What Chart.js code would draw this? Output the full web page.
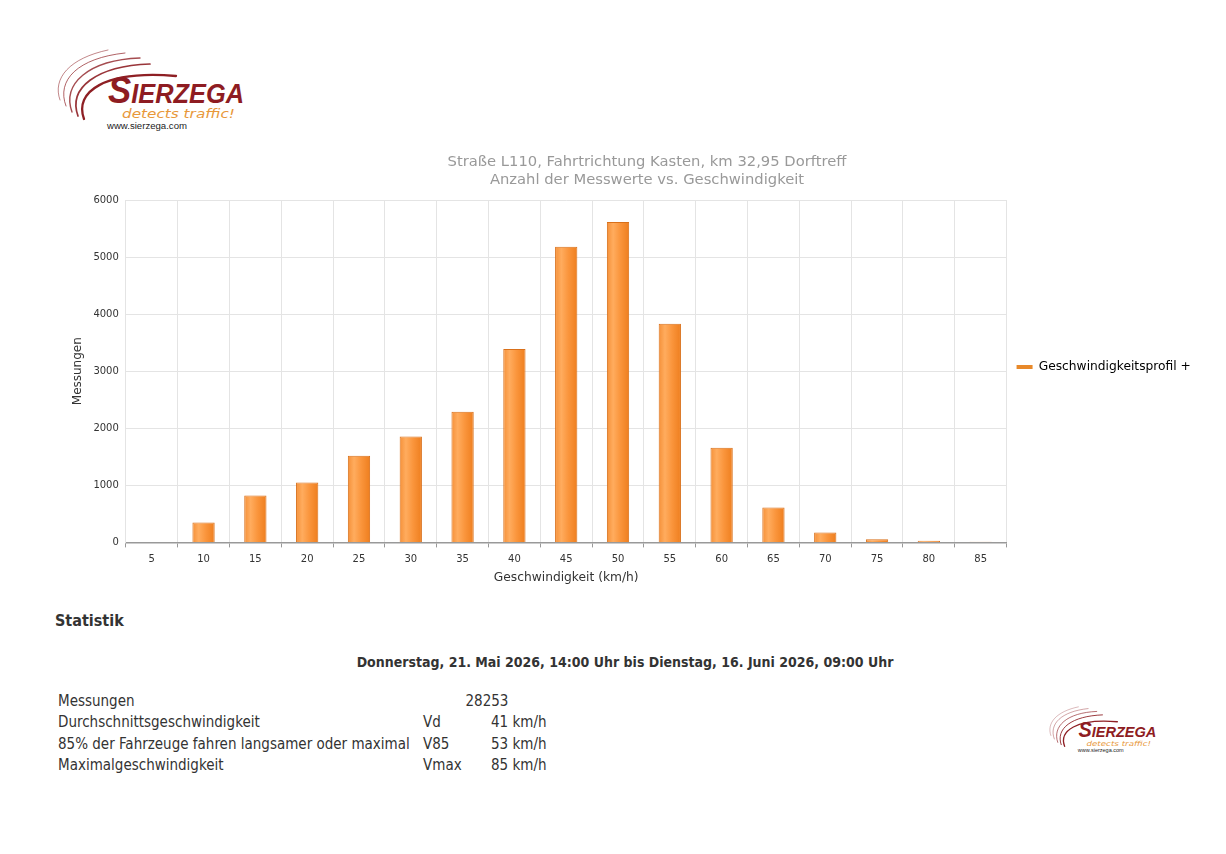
<!DOCTYPE html>
<html lang="de">
<head>
<meta charset="utf-8">
<title>Geschwindigkeitsprofil</title>
<script src="https://cdn.jsdelivr.net/npm/chart.js@4.4.1/dist/chart.umd.min.js"></script>
<style>
  html, body { margin: 0; padding: 0; background: #fff; width: 1226px; height: 854px; overflow: hidden; }
  body { position: relative; font-family: "DejaVu Sans", sans-serif; color: #333; }
  #wrap { position: absolute; left: 62px; top: 145px; width: 1170px; height: 444px; }
  .abs { position: absolute; white-space: nowrap; }
  .cond { font-family: "DejaVu Sans Condensed", "DejaVu Sans", sans-serif; font-stretch: condensed; }
  #logos { position: absolute; left: 0; top: 0; }
</style>
</head>
<body>
<svg id="logos" width="1226" height="854" xmlns="http://www.w3.org/2000/svg">
  <g>
    <g fill="none" stroke="#8e1f24" stroke-linecap="round">
      <path d="M60 100 C52 78 70 58 108 50" stroke-width="0.9" opacity="0.6"/>
      <path d="M66 106 C56 80 78 58 125 53" stroke-width="1" opacity="0.7"/>
      <path d="M72 112 C62 84 88 60 140 58" stroke-width="1.4" opacity="0.8"/>
      <path d="M78 116 C68 88 96 66 150 64" stroke-width="1.7" opacity="0.9"/>
      <path d="M84 119 C74 92 104 70 176 76" stroke-width="2.3"/>
    </g>
    <text x="108" y="103" font-family="Liberation Sans, sans-serif" font-style="italic" font-weight="bold" fill="#8e1c22" textLength="136" lengthAdjust="spacingAndGlyphs"><tspan font-size="37">S</tspan><tspan font-size="27">IERZEGA</tspan></text>
    <text x="122" y="118" font-family="DejaVu Sans, sans-serif" font-size="12" font-style="italic" fill="#e8983a" textLength="113" lengthAdjust="spacingAndGlyphs">detects traffic!</text>
    <text x="107" y="129" font-family="Liberation Sans, sans-serif" font-size="8.5" fill="#222" textLength="80" lengthAdjust="spacingAndGlyphs">www.sierzega.com</text>
  </g>
  <g transform="translate(1016.5 678.2) scale(0.573)">
    <g fill="none" stroke="#8e1f24" stroke-linecap="round">
      <path d="M60 100 C52 78 70 58 108 50" stroke-width="0.9" opacity="0.6"/>
      <path d="M66 106 C56 80 78 58 125 53" stroke-width="1" opacity="0.7"/>
      <path d="M72 112 C62 84 88 60 140 58" stroke-width="1.4" opacity="0.8"/>
      <path d="M78 116 C68 88 96 66 150 64" stroke-width="1.7" opacity="0.9"/>
      <path d="M84 119 C74 92 104 70 176 76" stroke-width="2.3"/>
    </g>
    <text x="108" y="103" font-family="Liberation Sans, sans-serif" font-style="italic" font-weight="bold" fill="#8e1c22" textLength="136" lengthAdjust="spacingAndGlyphs"><tspan font-size="37">S</tspan><tspan font-size="27">IERZEGA</tspan></text>
    <text x="122" y="118" font-family="DejaVu Sans, sans-serif" font-size="12" font-style="italic" fill="#e8983a" textLength="113" lengthAdjust="spacingAndGlyphs">detects traffic!</text>
    <text x="107" y="129" font-family="Liberation Sans, sans-serif" font-size="8.5" fill="#222" textLength="80" lengthAdjust="spacingAndGlyphs">www.sierzega.com</text>
  </g>
</svg>

<div id="wrap"><canvas id="chart" width="1170" height="444"></canvas></div>

<div class="abs cond" style="left:55px; top:611px; font-size:16px; font-weight:bold; line-height:20px;">Statistik</div>
<div class="abs cond" style="left:0; width:1250px; top:652px; font-size:14px; font-weight:bold; line-height:20px; text-align:center;">Donnerstag, 21. Mai 2026, 14:00 Uhr bis Dienstag, 16. Juni 2026, 09:00 Uhr</div>

<div class="abs cond" style="left:58px; top:691px; font-size:15px; line-height:21.3px;">
  Messungen<br>Durchschnittsgeschwindigkeit<br>85% der Fahrzeuge fahren langsamer oder maximal<br>Maximalgeschwindigkeit
</div>
<div class="abs cond" style="left:423px; width:128px; top:691px; font-size:15px; line-height:21.3px; text-align:center;">28253</div>
<div class="abs cond" style="left:423px; top:712.3px; font-size:15px; line-height:21.3px;">Vd<br>V85<br>Vmax</div>
<div class="abs cond" style="left:491px; top:712.3px; font-size:15px; line-height:21.3px;">41 km/h<br>53 km/h<br>85 km/h</div>

<script>
// ---- data ----
const speedCategories = ['5','10','15','20','25','30','35','40','45','50','55','60','65','70','75','80','85'];
const measurementCounts = [0, 350, 820, 1050, 1520, 1855, 2290, 3390, 5180, 5615, 3830, 1660, 610, 175, 55, 30, 10];
const yTickValues = [0, 1000, 2000, 3000, 4000, 5000, 6000];
const seriesName = 'Geschwindigkeitsprofil +';
const chartTitleLines = ['Straße L110, Fahrtrichtung Kasten, km 32,95 Dorftreff', 'Anzahl der Messwerte vs. Geschwindigkeit'];
const xAxisTitle = 'Geschwindigkeit (km/h)';
const yAxisTitle = 'Messungen';

const BAR_PCT = 0.43;
const FONT = '"DejaVu Sans", sans-serif';

function barFill(c) {
  const chart = c.chart;
  const xs = chart.scales && chart.scales.x;
  if (!xs || c.dataIndex === undefined || !isFinite(xs.width)) return '#F7923A';
  const cx = xs.getPixelForValue(c.dataIndex);
  const w = xs.width / speedCategories.length * BAR_PCT;
  const g = chart.ctx.createLinearGradient(cx - w / 2, 0, cx + w / 2, 0);
  g.addColorStop(0, '#F59038');
  g.addColorStop(0.28, '#FFAC5E');
  g.addColorStop(0.6, '#FA953C');
  g.addColorStop(1, '#EE7E1E');
  return g;
}

new Chart(document.getElementById('chart'), {
  type: 'bar',
  data: {
    labels: speedCategories,
    datasets: [{
      label: seriesName,
      data: measurementCounts,
      backgroundColor: barFill,
      borderColor: '#D9701A',
      borderWidth: 1,
      borderSkipped: 'bottom',
      barPercentage: BAR_PCT,
      categoryPercentage: 1
    }]
  },
  options: {
    responsive: false,
    animation: false,
    devicePixelRatio: 1,
    layout: { padding: 0 },
    plugins: {
      title: {
        display: true,
        text: chartTitleLines,
        color: '#999999',
        font: { family: FONT, size: 14.75, weight: 'normal', lineHeight: 1.2 },
        padding: { top: 8.15, bottom: 11.45 }
      },
      legend: {
        display: true,
        position: 'right',
        labels: {
          boxWidth: 16,
          boxHeight: 4,
          padding: 10,
          color: '#333333',
          font: { family: FONT, size: 12.25 },
          generateLabels: () => [{
            text: seriesName + '\u00A0'.repeat(8),
            fillStyle: '#E8892A',
            strokeStyle: '#E8892A',
            lineWidth: 0,
            hidden: false,
            datasetIndex: 0
          }]
        }
      },
      tooltip: { enabled: false }
    },
    scales: {
      x: {
        offset: true,
        grid: {
          offset: true,
          color: '#e4e4e4',
          tickColor: '#999999',
          tickLength: 5,
          drawTicks: true
        },
        border: { display: true, color: '#999999', width: 1.5 },
        ticks: { color: '#333333', font: { family: FONT, size: 10 }, padding: 6, maxRotation: 0 },
        title: {
          display: true, text: xAxisTitle, color: '#333333',
          font: { family: FONT, size: 12.25 }, padding: { top: -1.1, bottom: 4 }
        }
      },
      y: {
        min: 0,
        max: 6000,
        afterBuildTicks: (axis) => { axis.ticks = yTickValues.map(v => ({ value: v })); },
        grid: { color: '#e4e4e4', drawTicks: false },
        border: { display: true, color: '#e4e4e4' },
        ticks: { color: '#333333', font: { family: FONT, size: 10 }, padding: 7, callback: (v) => String(v) },
        title: {
          display: true, text: yAxisTitle, color: '#333333',
          font: { family: FONT, size: 12 }, padding: { top: 9, bottom: 1 }
        }
      }
    }
  }
});
</script>
</body>
</html>
